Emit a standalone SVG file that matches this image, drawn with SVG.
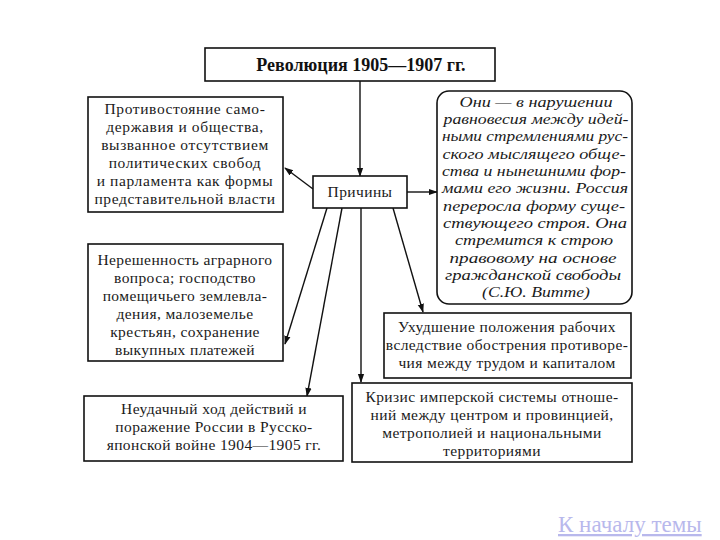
<svg xmlns="http://www.w3.org/2000/svg" width="720" height="540" viewBox="0 0 720 540">
<defs>
<marker id="ah" viewBox="0 0 10 10" refX="9" refY="5" markerWidth="9" markerHeight="9" markerUnits="userSpaceOnUse" orient="auto">
<path d="M0,1.5 L10,5 L0,8.5 Z" fill="#111"/>
</marker>
<style>
.box{fill:#fff;stroke:#111;stroke-width:1.6}
.t{font-family:"Liberation Serif","DejaVu Serif",serif;font-size:15.5px;letter-spacing:0.4px;fill:#1a1a1a;text-anchor:middle}
.w{letter-spacing:0.6px}
.it{font-family:"Liberation Serif","DejaVu Serif",serif;font-size:15.5px;font-style:italic;fill:#1a1a1a;text-anchor:middle}
.b{font-family:"Liberation Serif","DejaVu Serif",serif;font-size:18px;font-weight:bold;fill:#111;text-anchor:middle}
.ln{stroke:#111;stroke-width:1.4;fill:none;marker-end:url(#ah)}
.link{font-family:"Liberation Serif","DejaVu Serif",serif;font-size:23px;fill:#b8b8ec;text-decoration:underline}
</style>
</defs>
<rect width="720" height="540" fill="#fff"/>
<g id="connectors">
<line class="ln" x1="360" y1="81" x2="360" y2="176"/>
<line class="ln" x1="313" y1="189" x2="285" y2="168"/>
<line class="ln" x1="407" y1="192" x2="437" y2="192"/>
<line class="ln" x1="327" y1="208" x2="285" y2="344"/>
<line class="ln" x1="342" y1="208" x2="307" y2="396"/>
<line class="ln" x1="361" y1="208" x2="361" y2="382"/>
<line class="ln" x1="393" y1="208" x2="423" y2="312"/>
</g>
<g id="title">
<rect class="box" x="205" y="48" width="290" height="33"/>
<text class="b" x="361" y="71">Революция 1905—1907 гг.</text>
</g>
<g id="prichiny">
<rect class="box" x="313" y="176" width="94" height="32"/>
<text class="t" x="360" y="197">Причины</text>
</g>
<g id="box1">
<rect class="box" x="88" y="97" width="195" height="115"/>
<text class="t w" x="185" y="114">Противостояние само-</text>
<text class="t w" x="185" y="132">державия и общества,</text>
<text class="t w" x="185" y="150">вызванное отсутствием</text>
<text class="t w" x="185" y="168">политических свобод</text>
<text class="t w" x="185" y="186">и парламента как формы</text>
<text class="t w" x="185" y="204">представительной власти</text>
</g>
<g id="witte">
<rect class="box" x="437" y="91" width="195" height="213" rx="12"/>
<text class="it" x="536" y="107" textLength="153" lengthAdjust="spacingAndGlyphs">Они — в нарушении</text>
<text class="it" x="536" y="124" textLength="185" lengthAdjust="spacingAndGlyphs">равновесия между идей-</text>
<text class="it" x="535" y="141" textLength="186" lengthAdjust="spacingAndGlyphs">ными стремлениями рус-</text>
<text class="it" x="534" y="159" textLength="183" lengthAdjust="spacingAndGlyphs">ского мыслящего обще-</text>
<text class="it" x="534" y="176" textLength="184" lengthAdjust="spacingAndGlyphs">ства и нынешними фор-</text>
<text class="it" x="535" y="193" textLength="186" lengthAdjust="spacingAndGlyphs">мами его жизни. Россия</text>
<text class="it" x="534" y="211" textLength="182" lengthAdjust="spacingAndGlyphs">переросла форму суще-</text>
<text class="it" x="535" y="228" textLength="184" lengthAdjust="spacingAndGlyphs">ствующего строя. Она</text>
<text class="it" x="534" y="245" textLength="158" lengthAdjust="spacingAndGlyphs">стремится к строю</text>
<text class="it" x="533" y="263" textLength="167" lengthAdjust="spacingAndGlyphs">правовому на основе</text>
<text class="it" x="533" y="280" textLength="176" lengthAdjust="spacingAndGlyphs">гражданской свободы</text>
<text class="it" x="536" y="297" textLength="108" lengthAdjust="spacingAndGlyphs">(С.Ю. Витте)</text>
</g>
<g id="box2">
<rect class="box" x="88" y="244" width="195" height="117"/>
<text class="t" x="185" y="265">Нерешенность аграрного</text>
<text class="t" x="185" y="283">вопроса; господство</text>
<text class="t" x="185" y="301">помещичьего землевла-</text>
<text class="t" x="185" y="319">дения, малоземелье</text>
<text class="t" x="185" y="337">крестьян, сохранение</text>
<text class="t" x="185" y="355">выкупных платежей</text>
</g>
<g id="box3">
<rect class="box" x="384" y="313" width="247" height="65"/>
<text class="t" x="507" y="332">Ухудшение положения рабочих</text>
<text class="t" x="507" y="350">вследствие обострения противоре-</text>
<text class="t" x="507" y="368">чия между трудом и капиталом</text>
</g>
<g id="box4">
<rect class="box" x="84" y="396" width="259" height="65"/>
<text class="t" x="214" y="414">Неудачный ход действий и</text>
<text class="t" x="214" y="432">поражение России в Русско-</text>
<text class="t" x="214" y="450">японской войне 1904—1905 гг.</text>
</g>
<g id="box5">
<rect class="box" x="352" y="383" width="280" height="79"/>
<text class="t" x="492" y="402">Кризис имперской системы отноше-</text>
<text class="t" x="492" y="420">ний между центром и провинцией,</text>
<text class="t" x="492" y="438">метрополией и национальными</text>
<text class="t" x="492" y="456">территориями</text>
</g>
<text class="link" x="558" y="532">К началу темы</text>
</svg>
